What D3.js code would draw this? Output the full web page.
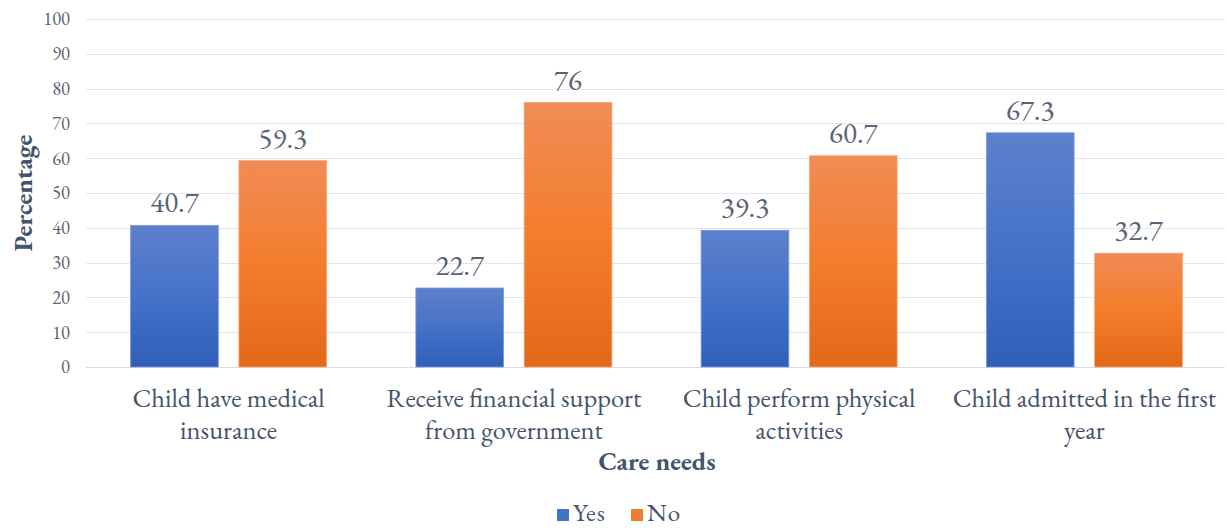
<!DOCTYPE html>
<html>
<head>
<meta charset="utf-8">
<script src="https://cdn.jsdelivr.net/npm/d3@7"></script>
<style>
  html, body { margin: 0; padding: 0; background: #ffffff; }
  svg { display: block; }
</style>
</head>
<body>
<svg id="chart" width="1227" height="528"></svg>
<script>
// Care needs survey: share of respondents answering Yes / No
const categories = [
  ["Child have medical", "insurance"],
  ["Receive financial support", "from government"],
  ["Child perform physical", "activities"],
  ["Child admitted in the first", "year"]
];
const series = ["Yes", "No"];
const yesValues = [40.7, 22.7, 39.3, 67.3];
const noValues = [59.3, 76, 60.7, 32.7];
const yTicks = [0, 10, 20, 30, 40, 50, 60, 70, 80, 90, 100];

const W = 1227, H = 528;
const margin = { left: 86, right: 0, top: 19, bottom: 161 };
const font = "'EB Garamond', Garamond, 'Liberation Serif', 'DejaVu Serif', serif";
const textColor = "#44546a";
const labelColor = "#5a6472";

const svg = d3.select("#chart");

const defs = svg.append("defs");
function grad(id, top, mid, bottom) {
  const g = defs.append("linearGradient").attr("id", id)
    .attr("x1", 0).attr("y1", 0).attr("x2", 0).attr("y2", 1);
  g.append("stop").attr("offset", "0%").attr("stop-color", top);
  g.append("stop").attr("offset", "50%").attr("stop-color", mid);
  g.append("stop").attr("offset", "100%").attr("stop-color", bottom);
}
grad("gYes", "#5e80cc", "#4472c9", "#2f5fb8");
grad("gNo", "#f08c55", "#f47d2c", "#e2681a");
const fills = { Yes: "url(#gYes)", No: "url(#gNo)" };
const strokes = { Yes: "#7d9ad8", No: "#f5a677" };

const x0 = d3.scaleBand()
  .domain(d3.range(categories.length))
  .range([margin.left, W - margin.right])
  .paddingInner(0).paddingOuter(0);

const groupW = 196 / 285.2;
const x1 = d3.scaleBand()
  .domain(series)
  .range([0, x0.bandwidth() * groupW])
  .paddingInner(0.19);

const y = d3.scaleLinear().domain([0, 100]).range([H - margin.bottom, margin.top]);

// gridlines
svg.append("g")
  .selectAll("line")
  .data(yTicks)
  .join("line")
  .attr("x1", margin.left)
  .attr("x2", W - 2)
  .attr("y1", d => Math.round(y(d)) + 0.5)
  .attr("y2", d => Math.round(y(d)) + 0.5)
  .attr("stroke", d => d === 0 ? "#d9dce3" : "#e3e6ec")
  .attr("stroke-width", 1.2);

// y tick labels
svg.append("g")
  .selectAll("text")
  .data(yTicks)
  .join("text")
  .attr("x", 70)
  .attr("y", d => y(d))
  .attr("dy", "0.35em")
  .attr("text-anchor", "end")
  .attr("font-family", font)
  .attr("font-size", 18.5)
  .attr("fill", labelColor)
  .text(d => d);

// bars
const data = categories.map((c, i) => ({ i, Yes: yesValues[i], No: noValues[i] }));
const groups = svg.append("g")
  .selectAll("g")
  .data(data)
  .join("g")
  .attr("transform", d => `translate(${x0(d.i) + (x0.bandwidth() * (1 - groupW)) / 2},0)`);

groups.selectAll("rect")
  .data(d => series.map(s => ({ s, v: d[s] })))
  .join("rect")
  .attr("x", d => x1(d.s))
  .attr("width", x1.bandwidth())
  .attr("y", d => y(d.v))
  .attr("height", d => y(0) - y(d.v))
  .attr("fill", d => fills[d.s])
  .attr("stroke", d => strokes[d.s])
  .attr("stroke-width", 0.8);

groups.selectAll("text.val")
  .data(d => series.map(s => ({ s, v: d[s] })))
  .join("text")
  .attr("class", "val")
  .attr("x", d => x1(d.s) + x1.bandwidth() / 2)
  .attr("y", d => y(d.v) - 13)
  .attr("text-anchor", "middle")
  .attr("font-family", font)
  .attr("font-size", 29)
  .attr("fill", labelColor)
  .text(d => d.v);

// category labels
const cat = svg.append("g")
  .selectAll("text")
  .data(categories)
  .join("text")
  .attr("x", (d, i) => x0(i) + x0.bandwidth() / 2)
  .attr("y", 407)
  .attr("text-anchor", "middle")
  .attr("font-family", font)
  .attr("font-size", 26.5)
  .attr("fill", textColor);
cat.selectAll("tspan")
  .data(d => d)
  .join("tspan")
  .attr("x", function () { return d3.select(this.parentNode).attr("x"); })
  .attr("dy", (d, j) => j === 0 ? 0 : 32)
  .text(d => d);

// axis titles
svg.append("text")
  .attr("x", 657)
  .attr("y", 470)
  .attr("text-anchor", "middle")
  .attr("font-family", font)
  .attr("font-size", 26)
  .attr("font-weight", "bold")
  .attr("fill", textColor)
  .text("Care needs");

svg.append("text")
  .attr("transform", `translate(32,${y(50)}) rotate(-90)`)
  .attr("text-anchor", "middle")
  .attr("font-family", font)
  .attr("font-size", 26)
  .attr("font-weight", "bold")
  .attr("fill", textColor)
  .text("Percentage");

// legend
const legendItems = [
  { s: "Yes", x: 557, color: "#4472c4" },
  { s: "No", x: 631, color: "#ed7d31" }
];
const leg = svg.append("g");
legendItems.forEach(it => {
  leg.append("rect")
    .attr("x", it.x).attr("y", 509)
    .attr("width", 12).attr("height", 12)
    .attr("fill", it.color);
  leg.append("text")
    .attr("x", it.x + 16).attr("y", 521)
    .attr("font-family", font)
    .attr("font-size", 25)
    .attr("letter-spacing", 1)
    .attr("fill", textColor)
    .text(it.s);
});
</script>
</body>
</html>
